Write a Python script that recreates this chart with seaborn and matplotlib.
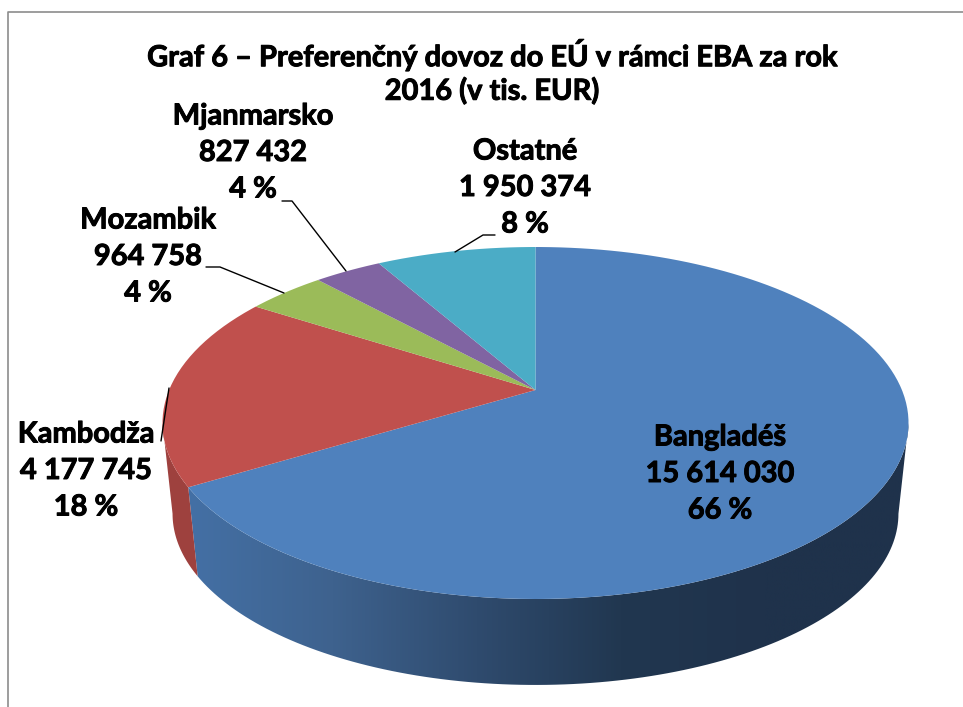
import numpy as np
import matplotlib
matplotlib.use('Agg')
import matplotlib.pyplot as plt
import matplotlib.patheffects as pe
import seaborn as sns
from matplotlib.path import Path
from matplotlib.patches import PathPatch
from matplotlib.transforms import Transform

# data
krajiny = ['Bangladéš', 'Kambodža', 'Mozambik', 'Mjanmarsko', 'Ostatné']
hodnoty = [15614030, 4177745, 964758, 827432, 1950374]
farby = ['#4f81bd', '#c0504d', '#9bbb59', '#8064a2', '#4bacc6']
titul = 'Graf 6 – Preferenčný dovoz do EÚ v rámci EBA za rok\n2016 (v tis. EUR)'

# perspective of the disc, in image pixels
K = 0.1875
A = 169.8
C = 366.4
APEX = (535.5, 390)
R = 500
DROP = 91.6
BOTTOM = 0.973


def project(x, y, scale=1.0, drop=0.0):
    w = 1 + K * y
    return APEX[0] + C * scale * x / w, APEX[1] + drop - A * scale * y / w


class Persp(Transform):
    input_dims = 2
    output_dims = 2

    def transform_non_affine(self, values):
        v = np.asarray(values, dtype=float) / R
        return np.column_stack(project(v[:, 0], v[:, 1]))

    def transform_path_non_affine(self, path):
        poly = path.to_polygons(closed_only=True)[0]
        return Path(self.transform_non_affine(poly), closed=True)


def side_path(t1, t2):
    th = np.radians(np.linspace(t1, t2, 120))
    top = np.column_stack(project(np.cos(th), np.sin(th)))
    bot = np.column_stack(project(np.cos(th), np.sin(th), BOTTOM, DROP))
    return Path(np.vstack([top, bot[::-1], top[:1]]), closed=True)


sns.set_theme(style='white')
plt.rcParams['font.family'] = ['Lato', 'DejaVu Sans']

fig = plt.figure(figsize=(9.63, 7.07), dpi=100)
ax = fig.add_axes([0, 0, 1, 1])

wedges, _ = ax.pie(hodnoty, colors=sns.color_palette(farby), startangle=90,
                   counterclock=False, radius=R)
persp = Persp() + ax.transData
for w in wedges:
    w.set_transform(persp)
    w.set_zorder(3)
    w.set_edgecolor('none')

# only the front of the rim shows
front = (-180 + np.degrees(np.arcsin(K)), -np.degrees(np.arcsin(K)))
modra = sns.blend_palette(['#4470a5', '#3e628e', '#2f4b6e', '#213750', '#1f324b', '#1f324b'], as_cmap=True)
gradient = np.linspace(0, 1, 256).reshape(1, -1)
for w, farba in zip(wedges, farby):
    t1, t2 = max(w.theta1, front[0]), min(w.theta2, front[1])
    if t1 >= t2:
        continue
    patch = PathPatch(side_path(t1, t2), transform=ax.transData, facecolor='none', edgecolor='none')
    ax.add_patch(patch)
    if farba == farby[0]:
        img = ax.imshow(gradient, cmap=modra, aspect='auto', extent=(188, 910, 690, 400), zorder=1)
        img.set_clip_path(patch)
    else:
        patch.set_facecolor('#9e413e')
        patch.set_zorder(1)

ax.set_xlim(0, 963)
ax.set_ylim(707, 0)
ax.axis('off')

# chart frame
ax.plot([8, 8, 963], [707, 12, 12], color='#8c8c8c', lw=1.2, zorder=2, clip_on=False)

# leader lines
ax.plot([282, 292, 346], [201, 201, 271], color='black', lw=1, zorder=4)
ax.plot([206, 220, 284], [267, 267, 293], color='black', lw=1, zorder=4)
ax.plot([455, 483, 495], [252, 235, 235], color='black', lw=1, zorder=4)
ax.plot([169, 161], [388, 441], color='black', lw=1, zorder=4)

# Lato bold is lighter than the original, thicken it a little
hrubsie = [pe.withStroke(linewidth=0.7, foreground='black')]

ax.text(492, 72, titul, ha='center', va='center', fontsize=20.9, fontweight='bold',
        color='black', linespacing=1.29, zorder=5, path_effects=hrubsie)

stred = [(720, 474), (86, 471), (148, 257), (253, 153), (525, 188)]
spolu = sum(hodnoty)
for meno, h, (x, y) in zip(krajiny, hodnoty, stred):
    cislo = f'{h:,}'.replace(',', ' ')
    ax.text(x, y, f'{meno}\n{cislo}\n{h / spolu * 100:.0f} %', ha='center', va='center',
            fontsize=20.9, fontweight='bold', color='black', linespacing=1.5, zorder=5,
            path_effects=hrubsie)

fig.savefig('out.png', dpi=100)
